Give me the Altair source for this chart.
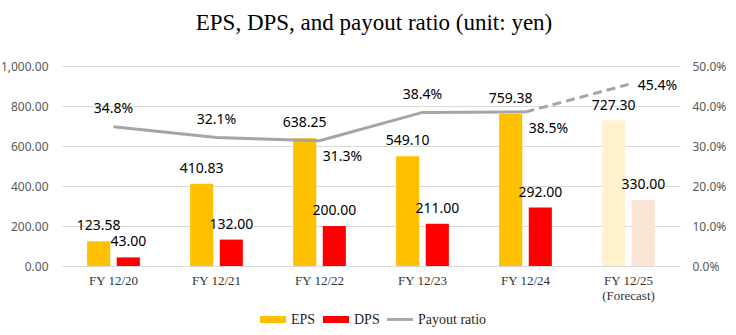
import altair as alt
import pandas as pd

# ---- data ----
categories = ["FY 12/20", "FY 12/21", "FY 12/22", "FY 12/23", "FY 12/24", "FY 12/25 (Forecast)"]
eps = [123.58, 410.83, 638.25, 549.10, 759.38, 727.30]
dps = [43.00, 132.00, 200.00, 211.00, 292.00, 330.00]
payout_pct = [34.8, 32.1, 31.3, 38.4, 38.5, 45.4]
is_forecast = [False, False, False, False, False, True]
series_names = ["EPS", "DPS"]
legend_names = ["EPS", "DPS", "Payout ratio"]
payout_label_place = ["above", "above", "below_right", "above", "below_right", "right"]
left_ticks = [0, 200, 400, 600, 800, 1000]
right_ticks = [0, 0.1, 0.2, 0.3, 0.4, 0.5]

# ---- tables ----
bar_rows = []
for i, c in enumerate(categories):
    for s, vals in zip(series_names, [eps, dps]):
        bar_rows.append({
            "cat": c,
            "series": s,
            "value": vals[i],
            "key": s + (" forecast" if is_forecast[i] else ""),
        })
bars_df = pd.DataFrame(bar_rows)

line_df = pd.DataFrame({
    "cat": categories,
    "idx": list(range(len(categories))),
    "payout": [p / 100 for p in payout_pct],
    "place": payout_label_place,
    "forecast": is_forecast,
})
legend_df = pd.DataFrame({"legend": legend_names})

SANS = "Noto Sans"
SERIF = "Liberation Serif"

x_enc = alt.X(
    "cat:N",
    sort=categories,
    scale=alt.Scale(domain=categories, paddingInner=0.488, paddingOuter=0.244),
    axis=alt.Axis(
        title=None,
        labelFont=SERIF,
        labelFontSize=13,
        labelColor="#333333",
        labelPadding=8,
        labelLineHeight=15.5,
        labelAngle=0,
        labelOverlap=False,
        ticks=False,
        domainColor="#D9D9D9",
        domainWidth=1,
        labelExpr="indexof(datum.label, ' (') > 0 ? [slice(datum.label, 0, indexof(datum.label, ' (')), slice(datum.label, indexof(datum.label, ' (') + 1)] : datum.label",
    ),
)
xoff_enc = alt.XOffset(
    "series:N",
    sort=series_names,
    scale=alt.Scale(domain=series_names, paddingInner=0.22, paddingOuter=0),
)
y_left = alt.Y(
    "value:Q",
    scale=alt.Scale(domain=[0, 1000], nice=False),
    axis=alt.Axis(
        title=None,
        values=left_ticks,
        tickCount=20,
        format=",.2f",
        labelFont=SANS,
        labelFontSize=12,
        labelColor="#595959",
        labelPadding=14,
        labelOverlap=False,
        ticks=False,
        domain=False,
        grid=True,
        gridColor="#D9D9D9",
        gridWidth=1,
        orient="left",
    ),
)

bars = alt.Chart(bars_df).mark_bar().encode(
    x=x_enc,
    xOffset=xoff_enc,
    y=y_left,
    fill=alt.Fill(
        "key:N",
        scale=alt.Scale(
            domain=["EPS", "DPS", "EPS forecast", "DPS forecast"],
            range=["#FFC000", "#FF0000", "#FFF2CC", "#FBE5D6"],
        ),
        legend=None,
    ),
)

bar_labels = alt.Chart(bars_df).mark_text(
    font=SANS, fontSize=14, color="#000000", baseline="middle", align="center", dy=-15
).encode(
    x=x_enc,
    xOffset=xoff_enc,
    y=alt.Y("value:Q"),
    text=alt.Text("value:Q", format=".2f"),
)

legend_layer = alt.Chart(legend_df).mark_point(filled=True, size=676, opacity=1).encode(
    x=alt.value(0),
    y=alt.value(0),
    color=alt.Color(
        "legend:N",
        scale=alt.Scale(domain=legend_names, range=["#FFC000", "#FF0000", "#A5A5A5"]),
        legend=alt.Legend(title=None),
    ),
    shape=alt.Shape(
        "legend:N",
        scale=alt.Scale(
            domain=legend_names,
            range=[
                "M-1,-0.27H1V0.27H-1Z",
                "M-1,-0.27H1V0.27H-1Z",
                "M-1,-0.11H1V0.11H-1Z",
            ],
        ),
        legend=alt.Legend(title=None),
    ),
).transform_filter("false")

y_right = alt.Y(
    "payout:Q",
    scale=alt.Scale(domain=[0, 0.5], nice=False),
    axis=alt.Axis(
        title=None,
        values=right_ticks,
        tickCount=20,
        format=".1%",
        labelFont=SANS,
        labelFontSize=12,
        labelColor="#595959",
        labelPadding=12,
        labelOverlap=False,
        ticks=False,
        domain=False,
        grid=False,
        orient="right",
    ),
)

line_solid = alt.Chart(line_df).mark_line(
    color="#A5A5A5", strokeWidth=3
).encode(x=x_enc, y=y_right).transform_filter("!datum.forecast")

line_dash = alt.Chart(line_df).mark_line(
    color="#A5A5A5", strokeWidth=3, strokeDash=[9, 5]
).encode(x=x_enc, y=y_right).transform_filter("datum.idx >= 4")

def pay_text(place, dx, dy):
    return alt.Chart(line_df).mark_text(
        font=SANS, fontSize=14, color="#000000", baseline="middle", align="center", dx=dx, dy=dy
    ).encode(
        x=x_enc,
        y=alt.Y("payout:Q"),
        text=alt.Text("payout:Q", format=".1%"),
    ).transform_filter(alt.datum.place == place)

pay_above = pay_text("above", 0, -17.5)
pay_below = pay_text("below_right", 23, 16.5)
pay_right = pay_text("right", 29, 2)

left = alt.layer(bars, bar_labels, legend_layer)
right = alt.layer(line_solid, line_dash, pay_above, pay_below, pay_right)

chart = alt.layer(left, right).resolve_scale(y="independent").properties(
    width=618,
    height=200,
    padding={"left": 62, "top": 66, "right": 56, "bottom": 69},
    autosize=alt.AutoSizeParams(type="none"),
    title=alt.Title(
        "EPS, DPS, and payout ratio (unit: yen)",
        font=SERIF,
        fontSize=23,
        fontWeight="normal",
        color="#000000",
        anchor="middle",
        frame="group",
        baseline="alphabetic",
        offset=7,
        dx=3,
    ),
).configure_view(stroke=None).configure_legend(
    orient="none",
    legendX=198,
    legendY=240.5,
    direction="horizontal",
    labelFont=SERIF,
    labelFontSize=14,
    labelColor="#262626",
    labelOffset=5,
    columnPadding=7,
    symbolSize=676,
    symbolStrokeWidth=0,
    symbolOpacity=1,
)

chart.save("out.html", embed_options={"renderer": "svg", "actions": False})
